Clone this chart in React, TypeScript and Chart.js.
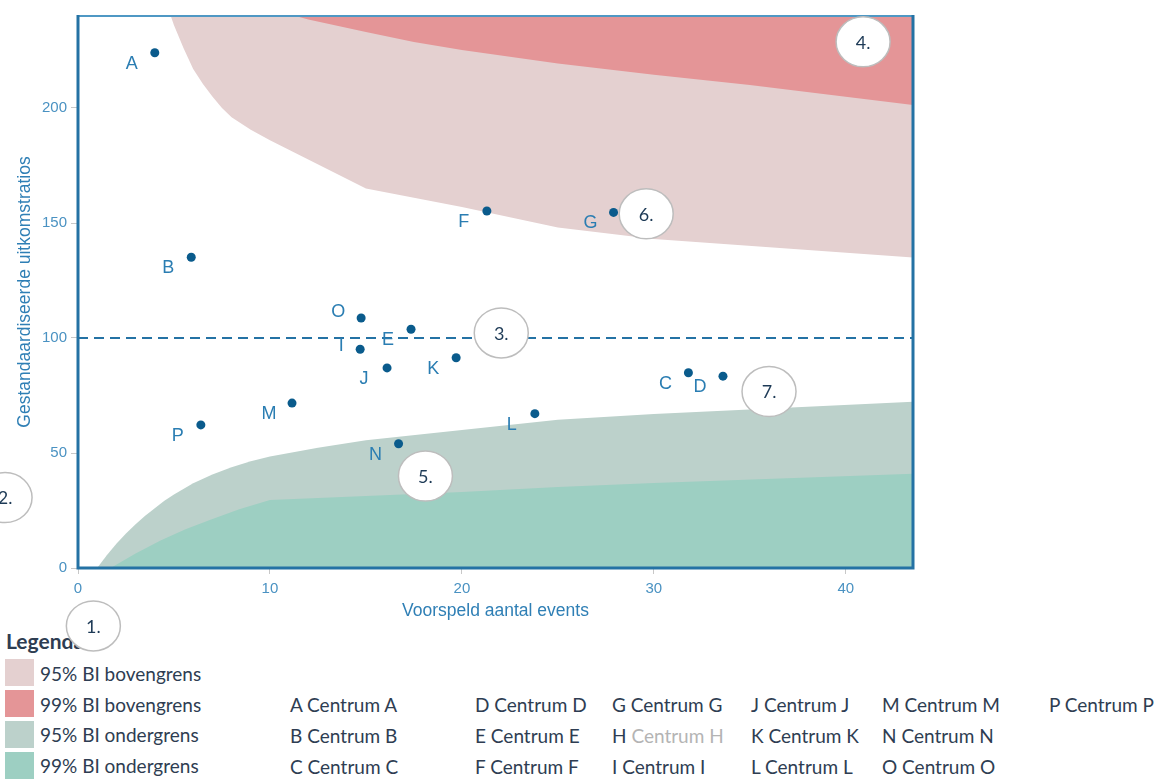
import React, { useEffect, useRef } from 'react';
import { Chart, registerables } from 'chart.js';

Chart.register(...registerables);

// ---- data ----
const centres = ['A', 'B', 'C', 'D', 'E', 'F', 'G', 'I', 'J', 'K', 'L', 'M', 'N', 'O', 'P'];
const expectedEvents = [4.0, 5.9, 31.8, 33.6, 17.35, 21.3, 27.9, 14.7, 16.1, 19.7, 23.8, 11.15, 16.7, 14.75, 6.4];
const outcomeRatios = [224.0, 135.1, 84.9, 83.4, 103.8, 155.2, 154.6, 95.1, 87.0, 91.4, 67.1, 71.7, 54.0, 108.7, 62.2];

const upper95X = [4, 4.5, 5, 5.5, 6, 6.5, 7, 7.5, 8, 9, 10, 15, 20, 25, 30, 43.5];
const upper95Y = [262, 248, 236, 226, 217, 210.5, 205, 200, 196, 190.5, 186, 165, 157, 148, 143, 135];
const upper99X = [10, 12, 15, 17.5, 20, 25, 30, 35, 43.5];
const upper99Y = [243, 238.5, 233, 228.7, 225.2, 219.3, 214.5, 210, 201.3];
const lower95X = [1, 1.5, 2, 2.5, 3, 3.5, 4, 4.5, 5, 6, 7, 8, 9, 10, 12.5, 15, 20, 25, 30, 43.5];
const lower95Y = [0, 5.5, 10.5, 15, 19, 22.7, 26, 29.2, 32, 36.8, 40.6, 43.8, 46.4, 48.5, 52.3, 55.5, 60, 64.5, 67, 72.3];
const lower99X = [1.7, 3, 4.3, 5.6, 6.9, 8.4, 10, 15, 20, 25, 30, 43.5];
const lower99Y = [0, 6.3, 12, 16.8, 21, 25.5, 29.6, 31.3, 33, 35.2, 37, 41];

const referenceLevel = 100;
const xTicks = [0, 10, 20, 30, 40];
const yTicks = [0, 50, 100, 150, 200];
const xMax = 43.5;
const yMax = 240;

const annotationLabels = ['1.', '2.', '3.', '4.', '5.', '6.', '7.'];
const annotationX = [0.8, -3.8, 22.05, 40.9, 18.1, 29.6, 36.0];
const annotationY = [-25.2, 30.6, 102.2, 228.8, 40.0, 154.0, 76.7];

const bandLegend = ['95% BI bovengrens', '99% BI bovengrens', '95% BI ondergrens', '99% BI ondergrens'];
const legendCentres = ['A', 'B', 'C', 'D', 'E', 'F', 'G', 'H', 'I', 'J', 'K', 'L', 'M', 'N', 'O', 'P'];
const absentCentres = ['H'];

// ---- styles ----
const COL_95U = '#e4d0d0';
const COL_99U = '#e49597';
const COL_95L = '#bcd1cb';
const COL_99L = '#9dcfc2';
const bandColors = [COL_95U, COL_99U, COL_95L, COL_99L];
const POINT = '#0a5b8c';
const LABEL = '#2a7db2';
const TICK = '#4a92c2';
const AXIS = '#2472a4';
const TEXT = '#2e3d52';

const labelOffset: Record<string, [number, number]> = {
  I: [-19, -3],
  O: [-23, -6],
};
const defaultOffset: [number, number] = [-23, 11];

const toXY = (xs: number[], ys: number[]) => xs.map((x, i) => ({ x, y: ys[i] }));

const legendColX = [290, 475, 612, 751, 882, 1049];
const legendRowY = [705, 736, 767];

export default function App() {
  const ref = useRef<HTMLCanvasElement | null>(null);

  useEffect(() => {
    const canvas = ref.current;
    if (!canvas) return;

    const borderPlugin = {
      id: 'frame',
      afterDatasetsDraw(chart: any) {
        const { ctx, chartArea: a } = chart;
        ctx.save();
        ctx.strokeStyle = '#4f98c4';
        ctx.lineWidth = 2;
        ctx.beginPath();
        ctx.moveTo(a.left, a.top);
        ctx.lineTo(a.right, a.top);
        ctx.stroke();
        ctx.strokeStyle = AXIS;
        ctx.lineWidth = 3;
        ctx.beginPath();
        ctx.moveTo(a.left, a.top - 1);
        ctx.lineTo(a.left, a.bottom);
        ctx.lineTo(a.right, a.bottom);
        ctx.lineTo(a.right, a.top - 1);
        ctx.stroke();
        ctx.restore();
      },
    };

    const labelPlugin = {
      id: 'pointLabels',
      afterDatasetsDraw(chart: any) {
        const meta = chart.getDatasetMeta(5);
        const { ctx } = chart;
        ctx.save();
        ctx.font = '18px "Liberation Sans", Arial, sans-serif';
        ctx.fillStyle = LABEL;
        ctx.textAlign = 'center';
        ctx.textBaseline = 'middle';
        meta.data.forEach((el: any, i: number) => {
          const name = centres[i];
          const [dx, dy] = labelOffset[name] || defaultOffset;
          ctx.fillText(name, el.x + dx, el.y + dy);
        });
        ctx.restore();
      },
    };

    const annotationPlugin = {
      id: 'annotations',
      afterDraw(chart: any) {
        const { ctx } = chart;
        const xs = chart.scales.x;
        const ys = chart.scales.y;
        ctx.save();
        annotationLabels.forEach((t, i) => {
          const cx = xs.getPixelForValue(annotationX[i]);
          const cy = ys.getPixelForValue(annotationY[i]);
          ctx.beginPath();
          ctx.ellipse(cx, cy, 27, 25, 0, 0, Math.PI * 2);
          ctx.fillStyle = '#ffffff';
          ctx.fill();
          ctx.lineWidth = 1.5;
          ctx.strokeStyle = '#bdbdbd';
          ctx.stroke();
          ctx.fillStyle = '#1d3a56';
          ctx.font = '18px Lato, sans-serif';
          ctx.textAlign = 'center';
          ctx.textBaseline = 'middle';
          ctx.fillText(t, cx, cy + 1);
        });
        ctx.restore();
      },
    };

    const band = (data: any[], color: string, fill: string, order: number) => ({
      type: 'line',
      data,
      backgroundColor: color,
      borderColor: color,
      borderWidth: 0,
      pointRadius: 0,
      fill,
      tension: 0,
      order,
    });

    const chart = new Chart(canvas, {
      type: 'line',
      data: {
        datasets: [
          band(toXY(upper95X, upper95Y), COL_95U, 'end', 6),
          band(toXY(upper99X, upper99Y), COL_99U, 'end', 5),
          band(toXY(lower95X, lower95Y), COL_95L, 'origin', 4),
          band(toXY(lower99X, lower99Y), COL_99L, 'origin', 3),
          {
            type: 'line',
            data: [
              { x: 0, y: referenceLevel },
              { x: xMax, y: referenceLevel },
            ],
            borderColor: AXIS,
            borderWidth: 2,
            borderDash: [10, 6],
            pointRadius: 0,
            fill: false,
            order: 2,
          },
          {
            type: 'line',
            data: toXY(expectedEvents, outcomeRatios),
            showLine: false,
            pointRadius: 4.5,
            pointBackgroundColor: POINT,
            pointBorderWidth: 0,
            order: 1,
          },
        ] as any,
      },
      options: {
        responsive: false,
        animation: false,
        events: [],
        layout: { padding: { left: 0, top: 16, right: 244, bottom: 160 } },
        plugins: {
          legend: { display: false },
          tooltip: { enabled: false },
        },
        scales: {
          x: {
            type: 'linear',
            min: 0,
            max: xMax,
            afterFit: (s: any) => {
              s.height = 54;
            },
            afterBuildTicks: (s: any) => {
              s.ticks = xTicks.map((v) => ({ value: v }));
            },
            grid: { drawOnChartArea: false, drawTicks: true, tickLength: 6, color: '#c8c8c8' },
            border: { display: false },
            ticks: {
              color: TICK,
              padding: 6,
              font: { family: '"Liberation Sans", Arial, sans-serif', size: 15 },
            },
            title: {
              display: true,
              text: 'Voorspeld aantal events',
              color: '#2f7fb5',
              padding: { top: 0, bottom: 0 },
              font: { family: '"Liberation Sans", Arial, sans-serif', size: 17.5 },
            },
          },
          y: {
            type: 'linear',
            min: 0,
            max: yMax,
            afterFit: (s: any) => {
              s.width = 78;
            },
            afterBuildTicks: (s: any) => {
              s.ticks = yTicks.map((v) => ({ value: v }));
            },
            grid: { drawOnChartArea: false, drawTicks: true, tickLength: 7, color: '#c8c8c8' },
            border: { display: false },
            ticks: {
              color: TICK,
              padding: 4,
              font: { family: '"Liberation Sans", Arial, sans-serif', size: 15 },
            },
            title: {
              display: true,
              text: 'Gestandaardiseerde uitkomstratios',
              color: '#2f7fb5',
              padding: { top: 15, bottom: 0 },
              font: { family: '"Liberation Sans", Arial, sans-serif', size: 17.5 },
            },
          },
        },
      } as any,
      plugins: [borderPlugin, labelPlugin, annotationPlugin],
    });

    return () => chart.destroy();
  }, []);

  const legendFont = '19px Lato, "Open Sans", sans-serif';

  return (
    <div style={{ position: 'absolute', left: 0, top: 0, width: 1157, height: 782, overflow: 'hidden', background: '#fff' }}>
      <div style={{ position: 'absolute', left: 0, top: 0, width: 1157, height: 782, zIndex: 1, color: TEXT }}>
        <div style={{ position: 'absolute', left: 6, top: 629, font: 'bold 21px Lato, sans-serif', lineHeight: '24px' }}>
          Legenda
        </div>
        {bandLegend.map((t, i) => (
          <React.Fragment key={t}>
            <div
              style={{
                position: 'absolute',
                left: 5,
                top: 659 + i * 31,
                width: 29,
                height: 27,
                background: bandColors[i],
              }}
            />
            <div
              style={{
                position: 'absolute',
                left: 40,
                top: 674 + i * 30.7 - 11,
                font: legendFont,
                lineHeight: '22px',
                whiteSpace: 'nowrap',
              }}
            >
              {t}
            </div>
          </React.Fragment>
        ))}
        {legendCentres.map((c, i) => {
          const col = Math.floor(i / 3);
          const row = i % 3;
          const absent = absentCentres.includes(c);
          return (
            <div
              key={c}
              style={{
                position: 'absolute',
                left: legendColX[col],
                top: legendRowY[row] - 11,
                font: legendFont,
                lineHeight: '22px',
                whiteSpace: 'nowrap',
              }}
            >
              {c} <span style={{ color: absent ? '#b4b4b4' : TEXT }}>Centrum {c}</span>
            </div>
          );
        })}
      </div>
      <canvas
        ref={ref}
        width={1157}
        height={782}
        style={{ position: 'absolute', left: 0, top: 0, width: 1157, height: 782, zIndex: 2, pointerEvents: 'none' }}
      />
    </div>
  );
}
